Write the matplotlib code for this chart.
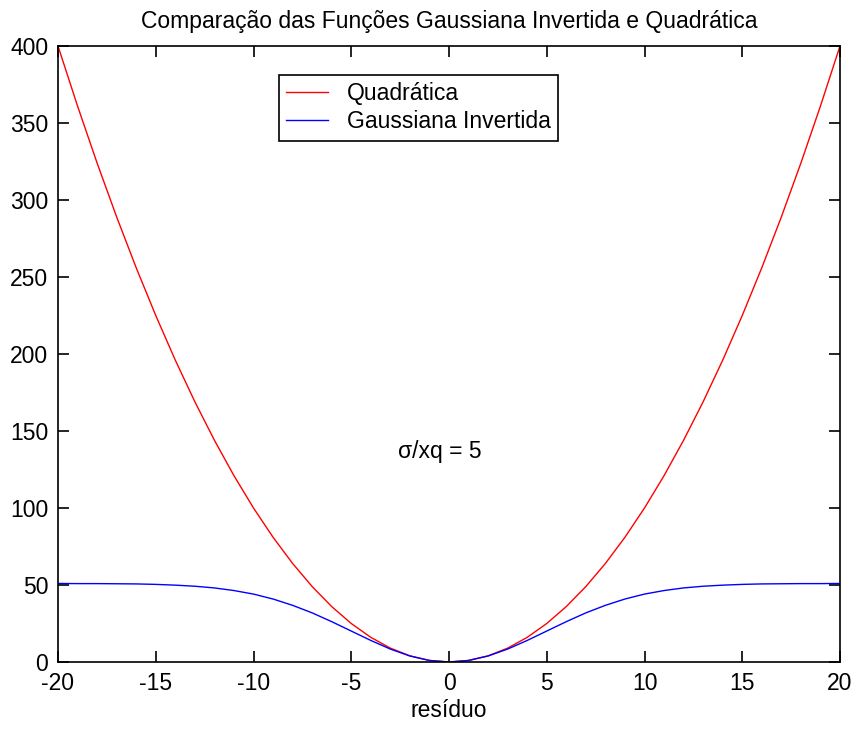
import matplotlib
matplotlib.use("Agg")
import matplotlib.pyplot as plt

plt.rcParams['font.family'] = ['Liberation Sans', 'DejaVu Sans']
plt.rcParams['axes.unicode_minus'] = False

# residual values on the horizontal axis
residuo = list(range(-20, 21))

# quadratic cost
quadratica = [400, 361, 324, 289, 256, 225, 196, 169, 144, 121, 100, 81, 64, 49, 36, 25,
              16, 9, 4, 1, 0, 1, 4, 9, 16, 25, 36, 49, 64, 81, 100, 121, 144, 169, 196,
              225, 256, 289, 324, 361, 400]

# inverted gaussian cost (sigma/xq = 5)
gaussiana_invertida = [51.0, 50.9, 50.9, 50.8, 50.7, 50.4, 49.9, 49.2, 48.1, 46.4, 44.1,
                       40.9, 36.8, 31.9, 26.2, 20.1, 14.0, 8.4, 3.9, 1.0, 0.0, 1.0, 3.9,
                       8.4, 14.0, 20.1, 26.2, 31.9, 36.8, 40.9, 44.1, 46.4, 48.1, 49.2,
                       49.9, 50.4, 50.7, 50.8, 50.9, 50.9, 51.0]

xticks = [-20, -15, -10, -5, 0, 5, 10, 15, 20]
yticks = [0, 50, 100, 150, 200, 250, 300, 350, 400]

W, H = 855, 729
fig = plt.figure(figsize=(W / 100, H / 100), dpi=100)
ax = fig.add_axes([58 / W, 1 - 662 / H, (840 - 58) / W, (662 - 46) / H])

ax.plot(residuo, quadratica, color='#ff0000', lw=1.0, label='Quadrática')
ax.plot(residuo, gaussiana_invertida, color='#0000ff', lw=1.0, label='Gaussiana Invertida')

ax.set_xlim(-20, 20)
ax.set_ylim(0, 400)
ax.set_xticks(xticks)
ax.set_yticks(yticks)

fs = 16.5
ax.tick_params(direction='in', length=8, width=1.2, top=True, right=True,
               labelsize=fs, pad=7, colors='black')
for s in ax.spines.values():
    s.set_linewidth(1.2)
    s.set_color('black')

ax.set_title('Comparação das Funções Gaussiana Invertida e Quadrática', fontsize=fs, pad=13)
ax.set_xlabel('resíduo', fontsize=fs, labelpad=3)

ax.text(-2.6, 137, 'σ/xq = 5', fontsize=fs, ha='left', va='center')

leg = ax.legend(loc='upper left', bbox_to_anchor=(279 / W, 1 - 75 / H),
                bbox_transform=fig.transFigure, borderaxespad=0, fontsize=fs,
                fancybox=False, framealpha=1, edgecolor='black', handlelength=1.8,
                handletextpad=0.85, borderpad=0.32, labelspacing=0.22)
leg.get_frame().set_linewidth(1.2)

fig.savefig('out.png', dpi=100)
